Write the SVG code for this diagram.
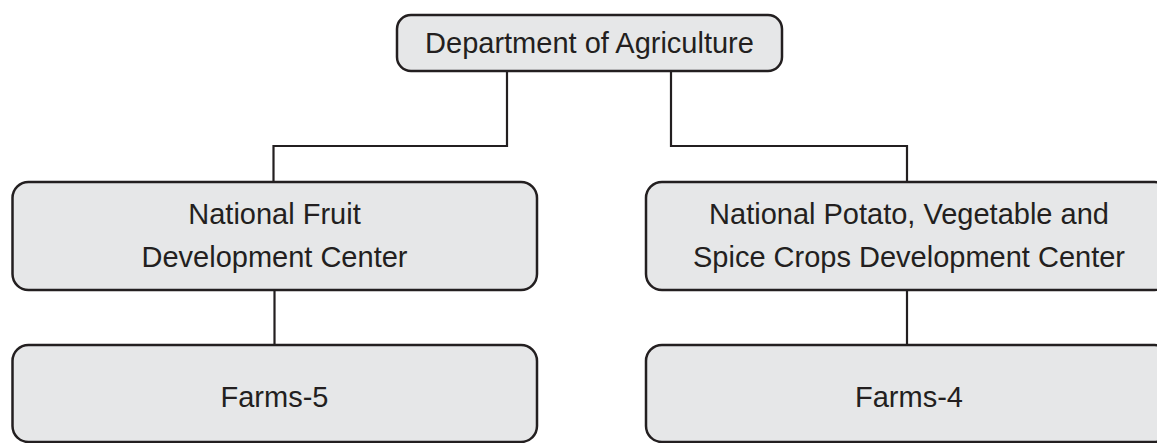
<svg xmlns="http://www.w3.org/2000/svg" width="1157" height="443" viewBox="0 0 1157 443">
<style>
.box{fill:#e6e7e8;stroke:#231f20;stroke-width:2.5}
.lbl{font-family:"Liberation Sans",Arial,sans-serif;font-size:29px;fill:#231f20;text-anchor:middle}
.conn{fill:none;stroke:#231f20;stroke-width:2.2}
</style>
<rect width="1157" height="443" fill="#ffffff"/>
<g id="connectors">
<path class="conn" d="M507,71 V146 H273.5 V182"/>
<path class="conn" d="M671,71 V146 H907 V182"/>
<path class="conn" d="M274.5,290 V345"/>
<path class="conn" d="M907,290 V345"/>
</g>
<g id="dept">
<rect class="box" x="397" y="15" width="385" height="56" rx="14"/>
<text class="lbl" x="589.5" y="53">Department of Agriculture</text>
</g>
<g id="fruit">
<rect class="box" x="12.5" y="182" width="524.5" height="108" rx="16"/>
<text class="lbl" x="274.5" y="223.5">National Fruit</text>
<text class="lbl" x="274.5" y="266.5">Development Center</text>
</g>
<g id="potato">
<rect class="box" x="646" y="182" width="524.5" height="108" rx="16"/>
<text class="lbl" x="909" y="223.5">National Potato, Vegetable and</text>
<text class="lbl" x="909" y="266.5">Spice Crops Development Center</text>
</g>
<g id="farms5">
<rect class="box" x="12.5" y="345" width="524.5" height="97" rx="16"/>
<text class="lbl" x="274.5" y="407">Farms-5</text>
</g>
<g id="farms4">
<rect class="box" x="646" y="345" width="524.5" height="97" rx="16"/>
<text class="lbl" x="909" y="407">Farms-4</text>
</g>
</svg>
